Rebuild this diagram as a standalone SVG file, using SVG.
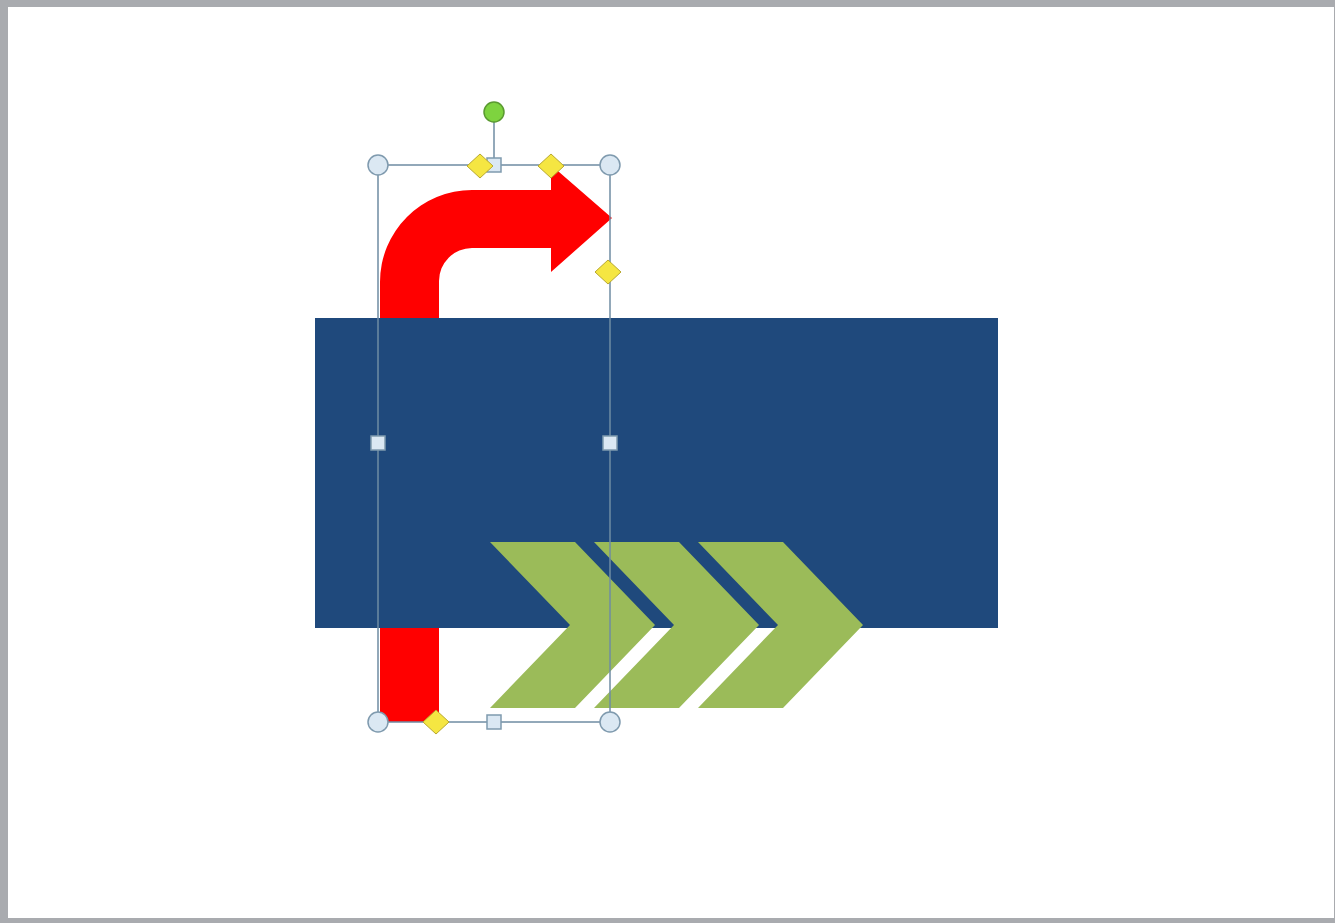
<svg xmlns="http://www.w3.org/2000/svg" width="1335" height="923" viewBox="0 0 1335 923">
<style>
.sel{fill:none;stroke:#6f8ca3;stroke-width:1.5}
.corner{fill:#dbe8f3;stroke:#7f9aae;stroke-width:1.5}
.side{fill:#dbe8f3;stroke:#7f9aae;stroke-width:1.5}
.adj{fill:#f5e642;stroke:#b8a830;stroke-width:1}
.chev{fill:#9bbb59}
</style>
<rect x="0" y="0" width="1335" height="923" fill="#a9abaf"/>
<rect x="8" y="7" width="1326" height="911" fill="#ffffff"/>
<g id="red-arrow">
<path fill="#ff0000" d="M380,722 L380,282 A92,92 0 0 1 472,190 L551,190 L551,165 L612,218 L551,272 L551,248 L472,248 A33,33 0 0 0 439,281 L439,722 Z"/>
</g>
<g id="blue-rect">
<rect x="315" y="318" width="683" height="310" fill="#1f497c"/>
</g>
<g id="chevrons">
<polygon class="chev" points="490,542 575,542 655,625 575,708 490,708 570,625"/>
<polygon class="chev" points="594,542 679,542 759,625 679,708 594,708 674,625"/>
<polygon class="chev" points="698,542 783,542 863,625 783,708 698,708 778,625"/>
</g>
<g id="selection">
<rect class="sel" x="378" y="165" width="232" height="557"/>
<line class="sel" x1="494" y1="122" x2="494" y2="159"/>
<circle cx="494" cy="112" r="10" fill="#7ed33f" stroke="#5a9a30" stroke-width="1.5"/>
<rect class="side" x="487" y="158" width="14" height="14"/>
<rect class="side" x="487" y="715" width="14" height="14"/>
<rect class="side" x="371" y="436" width="14" height="14"/>
<rect class="side" x="603" y="436" width="14" height="14"/>
<circle class="corner" cx="378" cy="165" r="10"/>
<circle class="corner" cx="610" cy="165" r="10"/>
<circle class="corner" cx="378" cy="722" r="10"/>
<circle class="corner" cx="610" cy="722" r="10"/>
<polygon class="adj" points="480,154 493,166 480,178 467,166"/>
<polygon class="adj" points="551,154 564,166 551,178 538,166"/>
<polygon class="adj" points="608,260 621,272 608,284 595,272"/>
<polygon class="adj" points="436,710 449,722 436,734 423,722"/>
</g>
</svg>
